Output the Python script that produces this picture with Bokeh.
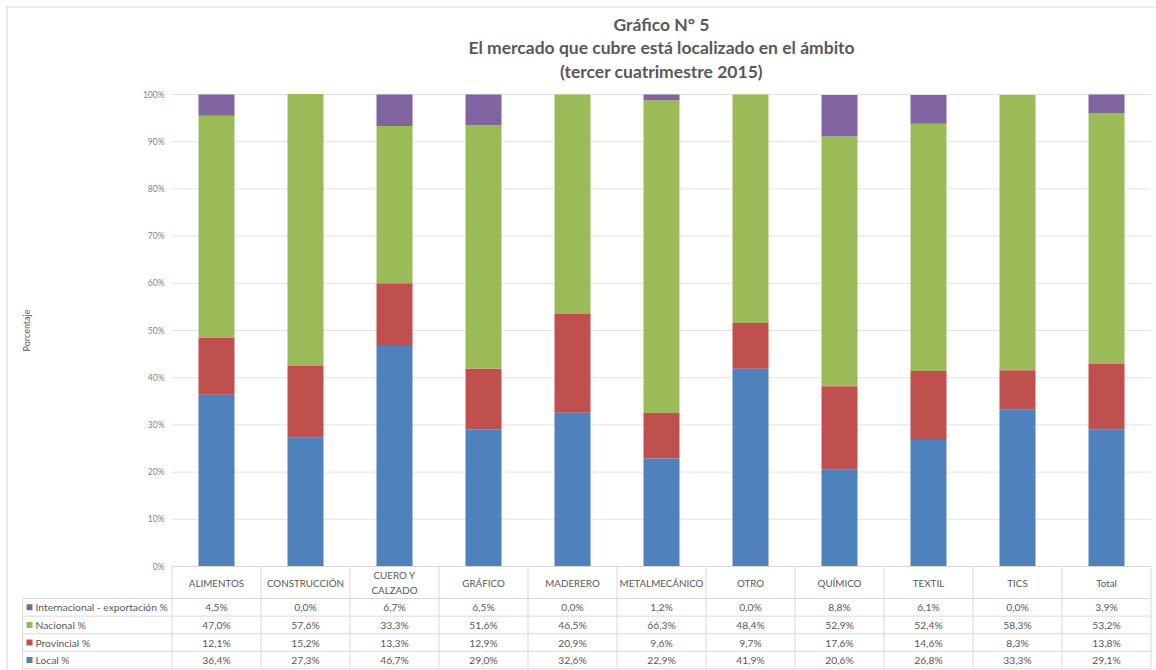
from math import pi
from bokeh.plotting import figure
from bokeh.models import Range1d, ColumnDataSource
from bokeh.core.properties import value
from bokeh.embed import file_html
from bokeh.resources import INLINE

# ---------------- data ----------------
categories = ["ALIMENTOS", "CONSTRUCCIÓN", "CUERO Y\nCALZADO", "GRÁFICO", "MADERERO",
              "METALMECÁNICO", "OTRO", "QUÍMICO", "TEXTIL", "TICS", "Total"]
local = [36.4, 27.3, 46.7, 29.0, 32.6, 22.9, 41.9, 20.6, 26.8, 33.3, 29.1]
provincial = [12.1, 15.2, 13.3, 12.9, 20.9, 9.6, 9.7, 17.6, 14.6, 8.3, 13.8]
nacional = [47.0, 57.6, 33.3, 51.6, 46.5, 66.3, 48.4, 52.9, 52.4, 58.3, 53.2]
internacional = [4.5, 0.0, 6.7, 6.5, 0.0, 1.2, 0.0, 8.8, 6.1, 0.0, 3.9]
series_names = ["Local %", "Provincial %", "Nacional %", "Internacional - exportación %"]
y_ticks = [0, 10, 20, 30, 40, 50, 60, 70, 80, 90, 100]
y_tick_labels = [f"{t}%" for t in y_ticks]
title_lines = ["Gráfico N° 5",
               "El mercado que cubre está localizado en el ámbito",
               "(tercer cuatrimestre 2015)"]
y_title = "Porcentaje"

# ---------------- styles / layout ----------------
colors = ["#4F81BD", "#C0504D", "#9BBB59", "#8064A2"]
TXT = "#595959"
FONT = "Lato"
W, H = 1156, 670
X0, XS = 171.5, 89.0      # px of category 0 left edge, px per category
Y0, YS = 566.0, 4.72      # px (from top) of 0 %, px per percent


def vx(px):
    return (px - X0) / XS


def vy(py):
    return (Y0 - py) / YS


p = figure(width=W, height=H, output_backend="svg", toolbar_location=None,
           x_range=Range1d(vx(0), vx(W)), y_range=Range1d(vy(H), vy(0)),
           min_border=0, min_border_left=0, min_border_right=0,
           min_border_top=0, min_border_bottom=0)
p.xaxis.visible = False
p.yaxis.visible = False
p.grid.visible = False
p.outline_line_color = None
p.background_fill_color = "white"
p.border_fill_color = "white"

n = len(categories)
xc = [i + 0.5 for i in range(n)]

# gridlines
p.segment(x0=[0] * len(y_ticks), x1=[n] * len(y_ticks), y0=y_ticks, y1=y_ticks,
          line_color="#e3e3e3", line_width=1)

# stacked bars
src = ColumnDataSource(dict(x=xc, s0=local, s1=provincial, s2=nacional, s3=internacional))
p.vbar_stack(["s0", "s1", "s2", "s3"], x="x", width=36 / XS, color=colors,
             line_color=None, source=src)

# y tick labels
p.text(x=[vx(164)] * len(y_ticks), y=y_ticks, text=y_tick_labels,
       text_align="right", text_baseline="middle", text_font=value(FONT),
       text_font_size="8.5px", text_color="#7f7f7f")

# y axis title
p.text(x=[vx(26)], y=[vy(330)], text=[y_title], angle=pi / 2,
       text_align="center", text_baseline="middle", text_font=value(FONT),
       text_font_size="9px", text_color=TXT)

# title
title_py = [24, 47, 71]
p.text(x=[n / 2] * 3, y=[vy(t) for t in title_py], text=title_lines,
       text_align="center", text_baseline="middle", text_font=value(FONT),
       text_font_style="bold", text_font_size="17.5px", text_color=TXT)

# outer border (top / left)
p.segment(x0=[vx(6), vx(6.5)], x1=[vx(W), vx(6.5)], y0=[vy(6.5), vy(6)],
          y1=[vy(6.5), vy(H)], line_color="#d9d9d9", line_width=1.2)

# ---------------- data table ----------------
LINE = "#d9d9d9"
hdr_top, hdr_bot, row_h = 566.0, 598.0, 17.6
left_px = 22.0
rows_series = [internacional, nacional, provincial, local]
rows_names = [series_names[3], series_names[2], series_names[1], series_names[0]]
rows_colors = [colors[3], colors[2], colors[1], colors[0]]
nrows = len(rows_series)
bottom_px = hdr_bot + nrows * row_h

# horizontal lines
hy = [hdr_top] + [hdr_bot + k * row_h for k in range(nrows + 1)]
hx0 = [0] + [vx(left_px)] * (nrows + 1)
p.segment(x0=hx0, x1=[n] * len(hy), y0=[vy(v) for v in hy], y1=[vy(v) for v in hy],
          line_color=LINE, line_width=1)
# vertical lines
vxs = list(range(n + 1))
p.segment(x0=vxs, x1=vxs, y0=[vy(hdr_top)] * len(vxs), y1=[vy(bottom_px)] * len(vxs),
          line_color=LINE, line_width=1)
p.segment(x0=[vx(left_px)], x1=[vx(left_px)], y0=[vy(hdr_bot)], y1=[vy(bottom_px)],
          line_color=LINE, line_width=1)

# header labels
p.text(x=xc, y=[vy((hdr_top + hdr_bot) / 2)] * n, text=categories,
       text_align="center", text_baseline="middle", text_font=value(FONT),
       text_font_size="9.8px", text_color=TXT, text_line_height=1.2)

# rows
for k, (vals, name, col) in enumerate(zip(rows_series, rows_names, rows_colors)):
    cy = vy(hdr_bot + (k + 0.5) * row_h)
    labels = [f"{v:.1f}%".replace(".", ",") for v in vals]
    p.text(x=xc, y=[cy] * n, text=labels, text_align="center", text_baseline="middle",
           text_font=value(FONT), text_font_size="10.3px", text_color=TXT)
    p.rect(x=[vx(29)], y=[cy], width=6 / XS, height=6 / YS, fill_color=col, line_color=None)
    p.text(x=[vx(35)], y=[cy], text=[name], text_align="left", text_baseline="middle",
           text_font=value(FONT), text_font_size="10.3px", text_color=TXT)

open("out.html", "w").write(file_html(p, INLINE))
